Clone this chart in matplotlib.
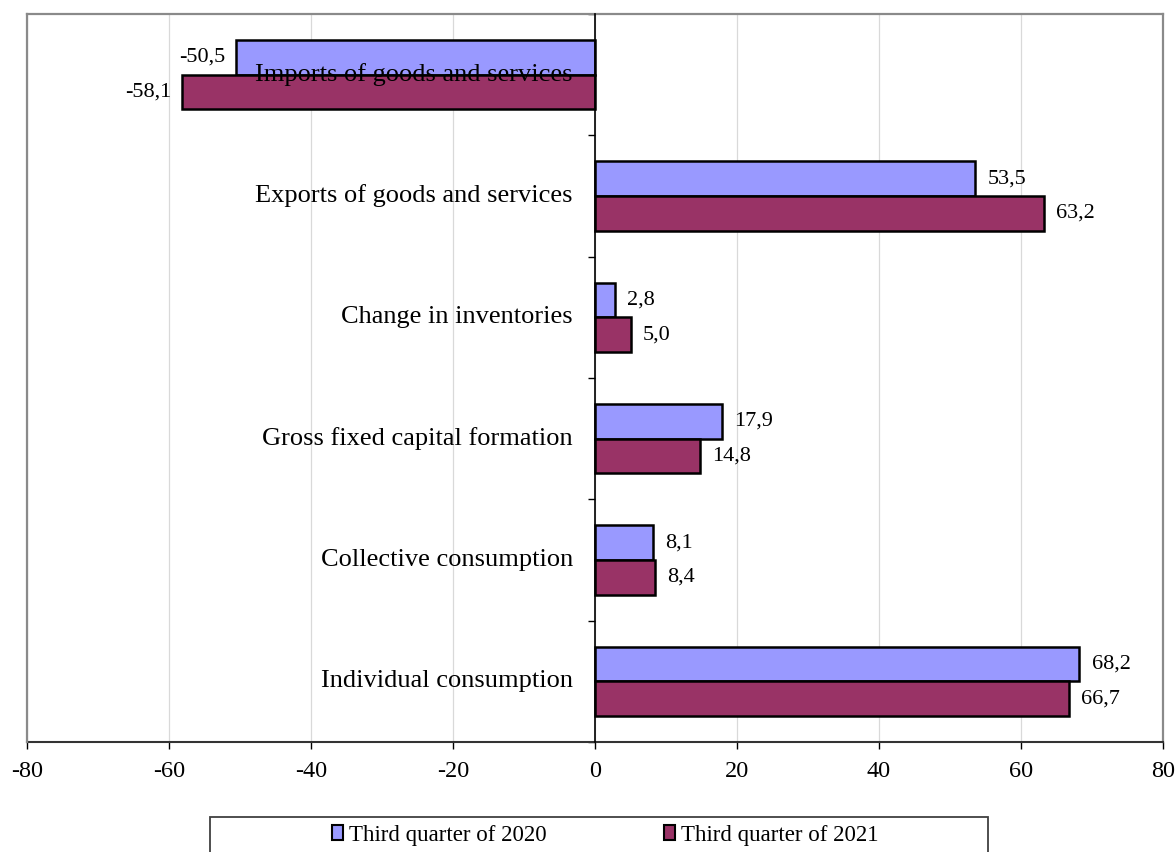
import matplotlib
matplotlib.use("Agg")
import matplotlib.pyplot as plt
from matplotlib.patches import Patch, Rectangle

categories = ["Individual consumption", "Collective consumption",
              "Gross fixed capital formation", "Change in inventories",
              "Exports of goods and services", "Imports of goods and services"]
q2020 = [68.2, 8.1, 17.9, 2.8, 53.5, -50.5]
q2021 = [66.7, 8.4, 14.8, 5.0, 63.2, -58.1]
series_names = ["Third quarter of 2020", "Third quarter of 2021"]
xticks = [-80, -60, -40, -20, 0, 20, 40, 60, 80]

plt.rcParams['font.family'] = ['Liberation Serif', 'DejaVu Serif']

c_blue = '#9999FF'
c_maroon = '#993366'
gray = '#8a8a8a'

fig = plt.figure(figsize=(11.76, 8.52), dpi=100)
ax = fig.add_axes([27/1176, 1-742/852, 1136/1176, 728/852])

h = 0.285
ys = list(range(len(categories)))
yb = [y + h/2 for y in ys]
ym = [y - h/2 for y in ys]
ax.barh(yb, q2020, height=h, color=c_blue, edgecolor='black', linewidth=1.8, zorder=3)
ax.barh(ym, q2021, height=h, color=c_maroon, edgecolor='black', linewidth=1.8, zorder=3)

def fmt(v):
    return f"{v:.1f}".replace('.', ',')

for yy, vals in ((yb, q2020), (ym, q2021)):
    for y, v in zip(yy, vals):
        off = 9 if v >= 0 else -8
        ax.annotate(fmt(v), (v, y), xytext=(off, 0), textcoords='offset points',
                    ha='left' if v >= 0 else 'right', va='center', fontsize=16, zorder=5)

for y, name in zip(ys, categories):
    ax.text(-3.1, y, name, ha='right', va='center', fontsize=19, zorder=6)

ax.set_xlim(-80, 80)
ax.set_ylim(-0.5, len(categories) - 0.5)
ax.set_xticks(xticks)
ax.set_xticklabels([str(t) for t in xticks], fontsize=17.5)
ax.tick_params(axis='x', direction='out', length=5, width=1, pad=9, color='black')
ax.grid(axis='x', color='#d9d9d9', linewidth=0.9, zorder=0)
ax.set_axisbelow(True)

ax.spines['left'].set_position(('data', 0))
ax.spines['left'].set_color('black')
ax.spines['left'].set_linewidth(1.2)
ax.spines['left'].set_zorder(4)
ax.spines['bottom'].set_color('#333333')
ax.spines['bottom'].set_linewidth(1.5)
for s in ('top', 'right'):
    ax.spines[s].set_color(gray)
    ax.spines[s].set_linewidth(1.6)
ax.plot([0, 0], [0, 1], transform=ax.transAxes, color=gray, lw=1.6, clip_on=False, zorder=4)

ax.set_yticks([y + 0.5 for y in range(-1, len(categories))])
ax.set_yticklabels([])
ax.tick_params(axis='y', direction='out', length=5, width=1, color='black')

handles = [Patch(facecolor=c_blue, edgecolor='black', linewidth=1.5),
           Patch(facecolor=c_maroon, edgecolor='black', linewidth=1.5)]
fig.legend(handles, series_names, loc='center', bbox_to_anchor=(605/1176, 1-835/852),
           ncol=2, frameon=False, fontsize=16.5, handlelength=0.5, handleheight=0.6,
           handletextpad=0.25, columnspacing=5.1)
fig.add_artist(Rectangle((210/1176, -0.05), 778/1176, (1-817/852) + 0.05,
                         transform=fig.transFigure, fill=False, edgecolor='#404040', lw=1.3))

fig.savefig('out.png', dpi=100)
